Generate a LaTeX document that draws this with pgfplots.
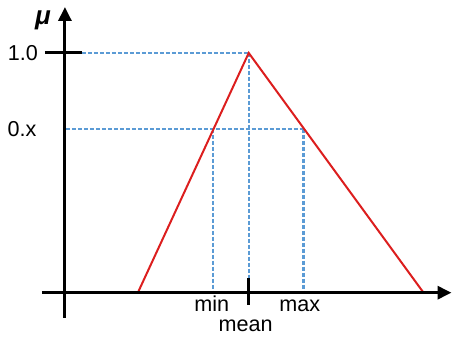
\documentclass[border=0pt]{standalone}
\usepackage{pgfplots}
\pgfplotsset{compat=1.18}
\usepackage{fontspec}
\setmainfont{Liberation Sans}
\usetikzlibrary{arrows.meta}
\definecolor{tri}{RGB}{220,30,30}
\definecolor{guide}{RGB}{91,155,213}
\begin{document}
\begin{tikzpicture}
\begin{axis}[
  scale only axis, width=226.5pt, height=168pt,
  xmin=0, xmax=453, ymin=0, ymax=336,
  hide axis, clip=false,
  font=\fontsize{10.8}{12}\selectfont,
]
\addplot[draw=none] coordinates {(0,0) (453,336)};
% guides
\addplot[guide, line width=1.2pt, dash pattern=on 2pt off 1pt] coordinates {(82,283) (249,283)};
\addplot[guide, line width=1.2pt, dash pattern=on 2pt off 1pt] coordinates {(66,207) (304,207)};
\addplot[guide, line width=1.2pt, dash pattern=on 2pt off 1pt] coordinates {(249,283) (249,43)};
\addplot[guide, line width=1.2pt, dash pattern=on 2pt off 1pt] coordinates {(213,207) (213,43)};
\addplot[guide, line width=1.2pt, dash pattern=on 2pt off 1pt] coordinates {(304,207) (304,43)};
% membership function
\addplot[tri, line width=1pt] coordinates {(138,43) (249,283) (424,43)};
% axes
\addplot[black, line width=1.5pt, -{Triangle[length=7pt,width=6.5pt]}] coordinates {(42,43) (452,43)};
\addplot[black, line width=1.5pt, -{Triangle[length=7pt,width=6.5pt]}] coordinates {(65,18) (65,329)};
\addplot[black, line width=1.5pt] coordinates {(45,283) (82,283)};
\addplot[black, line width=1.5pt] coordinates {(249,31) (249,58)};
% labels
\node[anchor=base] at (axis cs:23,275) {1.0};
\node[anchor=base] at (axis cs:22,199) {0.x};
\node[anchor=base, font=\fontsize{13}{14}\selectfont\bfseries\itshape] at (axis cs:43,311) {μ};
\node[anchor=base] at (axis cs:212,24) {min};
\node[anchor=base] at (axis cs:300,24) {max};
\node[anchor=base] at (axis cs:246,4) {mean};
\end{axis}
\end{tikzpicture}
\end{document}
